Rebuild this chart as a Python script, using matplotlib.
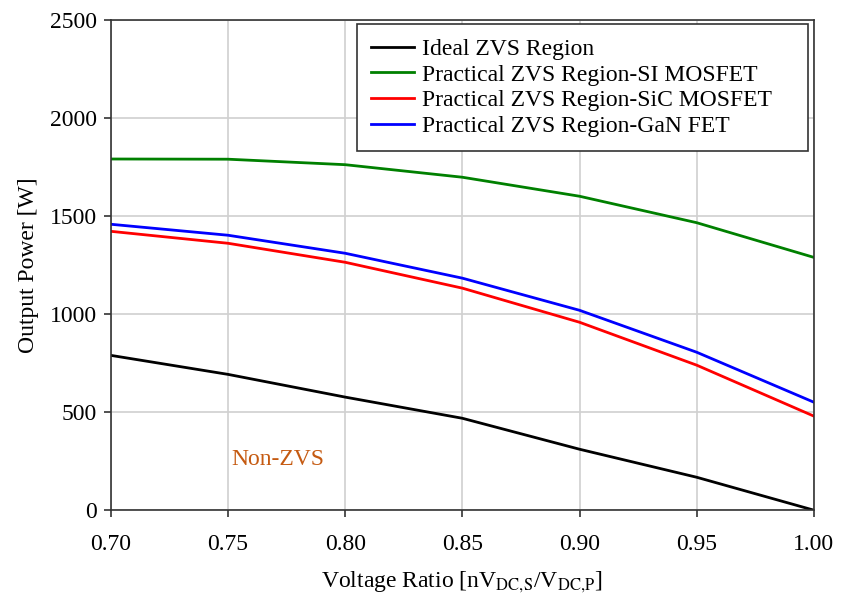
import numpy as np
import matplotlib.pyplot as plt

plt.rcParams["font.family"] = ["Liberation Serif", "DejaVu Serif"]
plt.rcParams["mathtext.fontset"] = "stix"

# Data
ratio = [0.70, 0.75, 0.80, 0.85, 0.90, 0.95, 1.00]
ideal = [790, 693, 577, 469, 311, 168, 0]
si_mosfet = [1792, 1791, 1763, 1699, 1602, 1467, 1290]
sic_mosfet = [1423, 1362, 1265, 1133, 959, 740, 480]
gan_fet = [1459, 1403, 1311, 1184, 1020, 806, 551]

labels = [
    "Ideal ZVS Region",
    "Practical ZVS Region-SI MOSFET",
    "Practical ZVS Region-SiC MOSFET",
    "Practical ZVS Region-GaN FET",
]
colors = ["black", "#008000", "#ff0000", "#0000ff"]

fig = plt.figure(figsize=(8.46, 5.96), dpi=100)
ax = fig.add_axes([0.131, 0.144, 0.831, 0.822])

for series, lab, col in zip([ideal, si_mosfet, sic_mosfet, gan_fet], labels, colors):
    ax.plot(ratio, series, color=col, linewidth=2, label=lab)

ax.set_xlim(0.70, 1.00)
ax.set_ylim(0, 2500)
ax.set_xticks(np.arange(0.70, 1.001, 0.05))
ax.set_xticklabels([f"{v:.2f}" for v in np.arange(0.70, 1.001, 0.05)])
ax.set_yticks(np.arange(0, 2501, 500))
ax.grid(True, color="#d0d0d0", linewidth=1.2)
ax.set_axisbelow(True)
ax.tick_params(direction="out", length=5, width=1.2, labelsize=17, color="#333333")
ax.tick_params(axis="x", pad=12.5)
ax.tick_params(axis="y", pad=5)
for sp in ax.spines.values():
    sp.set_color("#333333")
    sp.set_linewidth(1.2)

ax.set_xlabel("Voltage Ratio [nV$_\\mathrm{DC{,}S}$/V$_\\mathrm{DC{,}P}$]", fontsize=17, labelpad=10)
ax.set_ylabel("Output Power [W]", fontsize=17, labelpad=8)

ax.text(0.7515, 230, "Non-ZVS", color="#c55a11", fontsize=17)

leg = ax.legend(loc="upper left", bbox_to_anchor=(0.350, 0.992, 0.6415, 0.0),
                mode="expand", borderaxespad=0, fontsize=17, frameon=True,
                fancybox=False, framealpha=1, edgecolor="#333333",
                handlelength=1.8, labelspacing=0.18, handletextpad=0.34,
                borderpad=0.6)
leg.get_frame().set_linewidth(1.2)

fig.savefig("out.png", dpi=100)
